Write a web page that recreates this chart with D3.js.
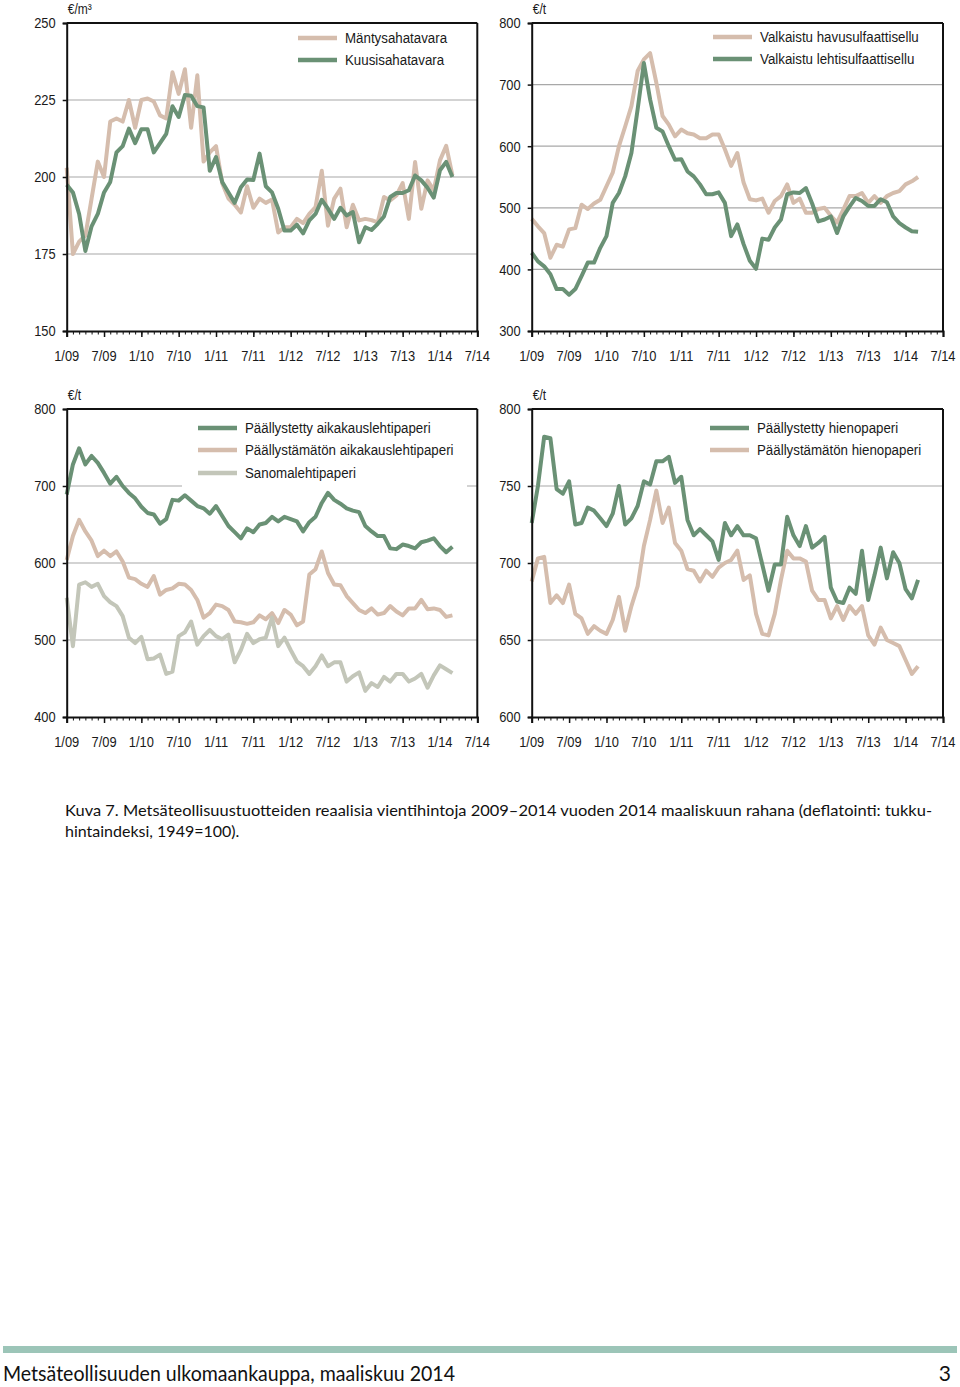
<!DOCTYPE html>
<html><head><meta charset="utf-8">
<script src="https://cdn.jsdelivr.net/npm/d3@7"></script>
<style>
body{margin:0;background:#fff}
svg{display:block}
</style>
</head><body>
<svg id="c" width="960" height="1387"></svg>
<script>
// ---------- DATA ----------
const xTickLabels = ["1/09","7/09","1/10","7/10","1/11","7/11","1/12","7/12","1/13","7/13","1/14","7/14"];
const monthCount = 66; // 1/09 .. 7/14

// Panel 1: sahatavara (€/m³)
const mantysahatavara = [203,175,179,181,193,205,200,218,219,218,225,216,225,225.5,224.5,220,219,234,227,235,216,233,205,208,210,198,193,191,188.5,197,190,193,191.6,192.7,182,183.7,183.7,186.4,185,188,190.2,202,184.2,193,196.2,183.7,191,185.9,186.4,186,185.3,193.5,192.4,194,198,186.4,204.9,189.7,198.9,195.7,205.4,210.1,200.5];
const kuusisahatavara = [197.5,195,188,176,184,188,195,198.4,208,210,215.7,211,215.5,215.5,208,211,214,223,219.5,226.6,226.4,223,222.6,202,206.5,198.4,195,191.6,196.7,199.2,199,207.6,197,195,189.7,182.6,182.6,184.5,181.7,185.9,188,192.6,189.7,186.4,190,187.5,188.6,178.8,183.7,182.8,184.8,187.2,193.5,194.8,194.8,195.7,200.5,198.9,196.5,193.3,202.2,204.9,200];
const yTicks1 = [150,175,200,225,250];

// Panel 2: sellu (€/t)
const havusulfaattisellu = [482,470,459,419,440,437,465,467,505,498,507,513,535,557,600,632,665,722,741,751,703,649,635,616,627,621,619,613,613,619,619,595,568,589,541,514,512,515,492,511,519,538,508,515,492,492,498,500,487,476,497,519,519,524,508,519,508,519,524,527,538,543,550];
const lehtisulfaattisellu = [427,413,405,392,368,368,359,368,389,411,411,435,454,508,524,551,589,660,735,676,630,624,600,578,579,559,551,538,522,522,525,508,454,473,441,414,401,450,448,468,481,522,525,524,532,507,478,481,486,459,486,502,516,511,503,503,514,509,486,475,468,462,461];
const yTicks2 = [300,400,500,600,700,800];

// Panel 3: aikakauslehti- ja sanomalehtipaperi (€/t)
const paallystettyAikak = [689,728,749,728,739,730,717,703,712,700,691,684,673,665,663,651,657,682,681,688,681,674,671,664,674,661,648,640,632,645,640,650,652,660,654,660,657,654,641,653,660,678,691,682,677,671,668,666,648,641,635,635,619,618,624,622,619,627,629,632,622,614,621];
const paallystamatonAikak = [604,635,656,641,629,609,616,609,615,602,581,579,573,569,583,559,565,567,573,572,565,552,529,535,546,544,539,524,523,521,523,532,527,535,522,539,533,519,524,585,592,615,587,572,571,557,548,539,535,541,533,535,544,537,532,541,541,552,540,541,539,530,532];
const sanomalehtipaperi = [555,492,572,575,569,573,557,549,544,531,503,496,504,475,476,481,456,459,505,510,524,494,505,513,505,501,507,471,487,508,496,501,503,529,492,503,487,472,466,456,466,480,466,471,471,446,453,458,434,444,439,452,446,456,456,446,450,456,438,454,467,462,457];
const yTicks3 = [400,500,600,700,800];

// Panel 4: hienopaperi (€/t)
const paallystettyHieno = [726,750,782,781,748,745,753,725,726,736,734,729,724,732,750,725,729,737,753,751,766,766,769,752,756,728,718,722,718,714,702,726,718,724,718,718,716,699,682,699,699,730,718,711,724,710,713,717,684,675,674,684,680,708,676,692,710,690,707,700,683,677,689];
const paallystamatonHieno = [688,703,704,674,679,674,686,667,664,654,659,656,654,663,678,656,672,685,711,728,747,726,736,713,708,696,695,688,695,691,697,700,702,708,689,692,667,654,653,667,689,708,703,703,701,682,676,676,664,672,663,672,667,672,653,647,658,650,648,646,637,628,633];
const yTicks4 = [600,650,700,750,800];

const captionLine1 = "Kuva 7. Metsäteollisuustuotteiden reaalisia vientihintoja 2009–2014 vuoden 2014 maaliskuun rahana (deflatointi: tukku-";
const captionLine2 = "hintaindeksi, 1949=100).";
const footerText = "Metsäteollisuuden ulkomaankauppa, maaliskuu 2014";
const pageNumber = "3";

// ---------- STYLE ----------
const TAN = "#d5bdad", GREEN = "#6a9175", GRAY = "#c3c6b9", GRID = "#a8a8a8";
const FONT = "'Liberation Sans', Arial, Helvetica, sans-serif";
const SX = 0.86, LEG_SX = 0.9;
const TICK_FS = 15, LEG_FS = 14.8, UNIT_FS = 14;

const panels = [
  {left:66.7, top:23, right:477.3, bottom:331, unit:"€/m³", yTicks:yTicks1, legendX:298, legendY:[38,60],
   series:[{name:"Mäntysahatavara", values:mantysahatavara, color:TAN},
           {name:"Kuusisahatavara", values:kuusisahatavara, color:GREEN}],
   drawOrder:[0,1]},
  {left:531.7, top:23, right:943, bottom:331, unit:"€/t", yTicks:yTicks2, legendX:713, legendY:[37,59],
   series:[{name:"Valkaistu havusulfaattisellu", values:havusulfaattisellu, color:TAN},
           {name:"Valkaistu lehtisulfaattisellu", values:lehtisulfaattisellu, color:GREEN}],
   drawOrder:[0,1]},
  {left:66.7, top:409, right:477.3, bottom:717, unit:"€/t", yTicks:yTicks3, legendX:198, legendY:[428,450,473],
   legendBox:{x:182, y:414, w:285, h:78},
   series:[{name:"Päällystetty aikakauslehtipaperi", values:paallystettyAikak, color:GREEN},
           {name:"Päällystämätön aikakauslehtipaperi", values:paallystamatonAikak, color:TAN},
           {name:"Sanomalehtipaperi", values:sanomalehtipaperi, color:GRAY}],
   drawOrder:[1,2,0]},
  {left:531.7, top:409, right:943, bottom:717, unit:"€/t", yTicks:yTicks4, legendX:710, legendY:[428,450],
   series:[{name:"Päällystetty hienopaperi", values:paallystettyHieno, color:GREEN},
           {name:"Päällystämätön hienopaperi", values:paallystamatonHieno, color:TAN}],
   drawOrder:[1,0]}
];

const svg = d3.select("#c");

function label(g, x, y, str, anchor, fs, sx) {
  return g.append("text")
    .attr("transform", `translate(${x},${y}) scale(${sx || SX},1)`)
    .attr("text-anchor", anchor || "start")
    .attr("font-size", fs).attr("fill", "#1a1a1a")
    .style("font-family", FONT).text(str);
}

panels.forEach(p => {
  const g = svg.append("g");
  const x = d3.scaleLinear().domain([0, monthCount]).range([p.left, p.right]);
  const y = d3.scaleLinear().domain(d3.extent(p.yTicks)).range([p.bottom, p.top]);

  // gridlines
  g.append("g").selectAll("line").data(p.yTicks.slice(1, -1)).join("line")
    .attr("x1", p.left).attr("x2", p.right)
    .attr("y1", d => y(d)).attr("y2", d => y(d))
    .attr("stroke", GRID).attr("stroke-width", 1.2);

  if (p.legendBox) {
    g.append("rect").attr("x", p.legendBox.x).attr("y", p.legendBox.y)
      .attr("width", p.legendBox.w).attr("height", p.legendBox.h).attr("fill", "#fff");
  }

  // frame top/right
  g.append("line").attr("x1", p.left).attr("x2", p.right).attr("y1", p.top).attr("y2", p.top)
    .attr("stroke", "#111").attr("stroke-width", 2);
  g.append("line").attr("x1", p.right).attr("x2", p.right).attr("y1", p.top).attr("y2", p.bottom)
    .attr("stroke", "#111").attr("stroke-width", 2);

  // data lines
  const line = d3.line().x((d, i) => x(i)).y(d => y(d));
  p.drawOrder.forEach(k => {
    const s = p.series[k];
    g.append("path").datum(s.values).attr("d", line)
      .attr("fill", "none").attr("stroke", s.color).attr("stroke-width", 4)
      .attr("stroke-linejoin", "round").attr("stroke-linecap", "butt");
  });

  // y axis
  const ya = g.append("g").attr("transform", `translate(${p.left},0)`)
    .call(d3.axisLeft(y).tickValues(p.yTicks).tickSize(4).tickFormat(""));
  ya.select(".domain").attr("stroke", "#111").attr("stroke-width", 2);
  ya.selectAll(".tick line").attr("stroke", "#111").attr("stroke-width", 1.5);
  p.yTicks.forEach(v => label(g, p.left - 11, y(v) + 5.3, String(v), "end", TICK_FS));

  // x axis minor ticks
  const xm = g.append("g").attr("transform", `translate(0,${p.bottom})`)
    .call(d3.axisBottom(x).tickValues(d3.range(0, monthCount + 1)).tickSize(3.5).tickFormat(""));
  xm.select(".domain").remove();
  xm.selectAll(".tick line").attr("stroke", "#111").attr("stroke-width", 1);
  // x axis major ticks
  const majors = d3.range(0, monthCount + 1, 6);
  const xa = g.append("g").attr("transform", `translate(0,${p.bottom})`)
    .call(d3.axisBottom(x).tickValues(majors).tickSize(6).tickFormat(""));
  xa.select(".domain").attr("stroke", "#111").attr("stroke-width", 2);
  xa.selectAll(".tick line").attr("stroke", "#111").attr("stroke-width", 1.5);
  majors.forEach((m, i) => label(g, x(m), p.bottom + 29.5, xTickLabels[i], "middle", TICK_FS));

  // unit label
  label(g, p.left + 1, p.top - 9, p.unit, "start", UNIT_FS);

  // legend
  p.series.forEach((s, i) => {
    const ly = p.legendY[i];
    g.append("line").attr("x1", p.legendX).attr("x2", p.legendX + 39).attr("y1", ly).attr("y2", ly)
      .attr("stroke", s.color).attr("stroke-width", 4.5);
    label(g, p.legendX + 47, ly + 5.3, s.name, "start", LEG_FS, LEG_SX);
  });
});

// caption
const CAP = "Lato, 'Open Sans', sans-serif";
svg.append("text").attr("x", 65).attr("y", 816).text(captionLine1)
  .attr("font-size", 16).attr("fill", "#111").style("font-family", CAP)
  .attr("textLength", 867).attr("lengthAdjust", "spacingAndGlyphs");
svg.append("text").attr("x", 65).attr("y", 837).text(captionLine2)
  .attr("font-size", 16).attr("fill", "#111").style("font-family", CAP);

// footer
svg.append("rect").attr("x", 3).attr("y", 1346).attr("width", 954).attr("height", 7).attr("fill", "#9cc5b8");
svg.append("text").attr("x", 3).attr("y", 1381).text(footerText)
  .attr("font-size", 21).attr("fill", "#111").style("font-family", CAP)
  .attr("textLength", 452).attr("lengthAdjust", "spacingAndGlyphs");
svg.append("text").attr("x", 951).attr("y", 1381).attr("text-anchor", "end").text(pageNumber)
  .attr("font-size", 21).attr("fill", "#111").style("font-family", CAP);
</script>
</body></html>
